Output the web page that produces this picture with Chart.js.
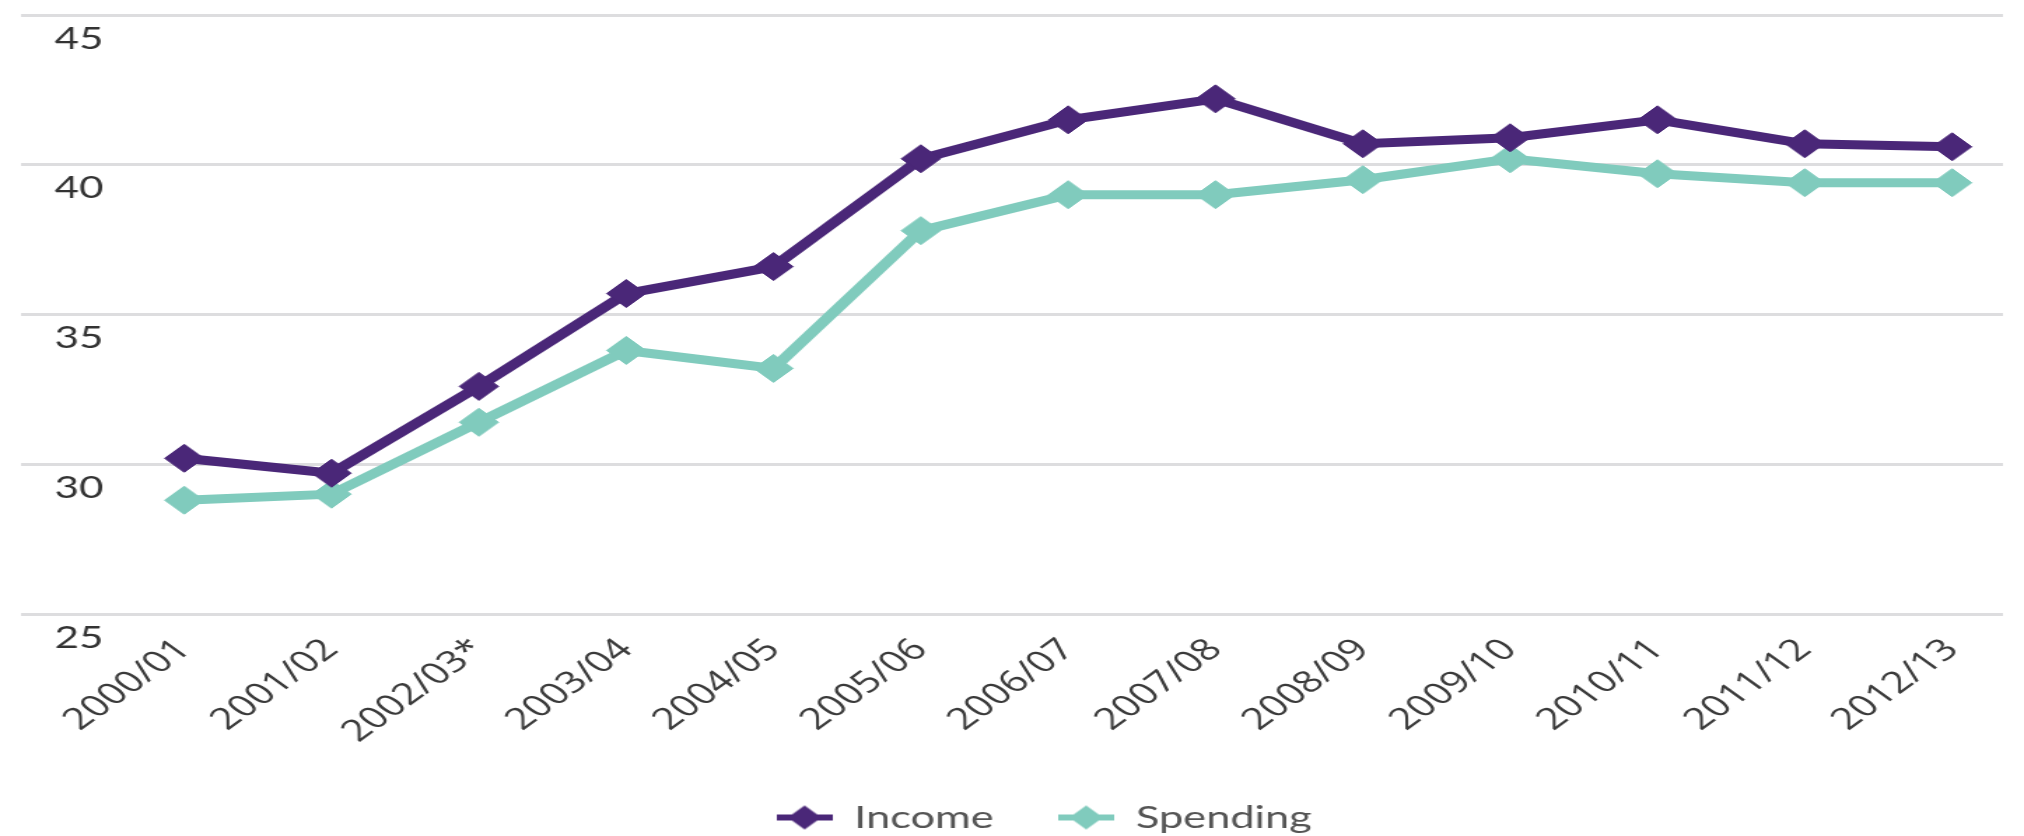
<!DOCTYPE html>
<html>
<head>
<meta charset="utf-8">
<title>Income and Spending</title>
<script src="https://cdn.jsdelivr.net/npm/chart.js@4.4.1/dist/chart.umd.min.js"></script>
<style>
  html, body { margin: 0; padding: 0; background: #ffffff; overflow: hidden; }
  /* the chart is laid out on a narrower canvas and widened to the full page */
  #wrap {
    position: absolute; left: 0; top: 0;
    width: 1446px; height: 836px;
    transform: scaleX(1.3997); transform-origin: 0 0;
  }
</style>
</head>
<body>
<div id="wrap"><canvas id="chart"></canvas></div>
<script>
// Financial years on the horizontal axis
const categories = ['2000/01', '2001/02', '2002/03*', '2003/04', '2004/05', '2005/06',
                    '2006/07', '2007/08', '2008/09', '2009/10', '2010/11', '2011/12', '2012/13'];
// Series values
const income   = [30.2, 29.7, 32.6, 35.7, 36.6, 40.2, 41.5, 42.2, 40.7, 40.9, 41.5, 40.7, 40.6];
const spending = [28.8, 29.0, 31.4, 33.8, 33.2, 37.8, 39.0, 39.0, 39.5, 40.2, 39.7, 39.4, 39.4];
// Value axis ticks
const yTicks = [25, 30, 35, 40, 45];

const seriesNames  = ['Income', 'Spending'];
const seriesColors = ['#4a2778', '#80cbbd'];

// Legend marker: a short line with a diamond on it
function legendMarker(color) {
  const c = document.createElement('canvas');
  c.width = 40; c.height = 26;
  const g = c.getContext('2d');
  g.fillStyle = color;
  g.fillRect(0, 10, 40, 6);
  g.beginPath();
  g.moveTo(20 - 12, 13); g.lineTo(20, 1); g.lineTo(20 + 12, 13); g.lineTo(20, 25);
  g.closePath(); g.fill();
  return c;
}
const markers = seriesColors.map(legendMarker);

const toPoints = arr => arr.map((v, i) => ({ x: i, y: v }));

function lineDataset(label, values, color) {
  return {
    label,
    data: toPoints(values),
    borderColor: color,
    backgroundColor: color,
    borderWidth: 9,
    tension: 0,
    pointStyle: 'rectRot',
    pointRadius: 14,
    pointBorderWidth: 1,
    pointBackgroundColor: color,
    pointBorderColor: color
  };
}

// Places the legend row under the axis labels, box reaching the canvas bottom
const legendNudge = {
  id: 'legendNudge',
  afterLayout(chart) {
    const lg = chart.legend;
    if (!lg) return;
    lg.left += 23; lg.right += 23;
    lg.top -= 30;
    lg.bottom = chart.height;
    lg.height = lg.bottom - lg.top;
  }
};

const PLOT_BOTTOM = 614;

new Chart(document.getElementById('chart'), {
  type: 'line',
  data: {
    datasets: [
      lineDataset(seriesNames[0], income, seriesColors[0]),
      lineDataset(seriesNames[1], spending, seriesColors[1])
    ]
  },
  plugins: [legendNudge],
  options: {
    responsive: true,
    maintainAspectRatio: false,
    animation: false,
    layout: { padding: { top: 10, right: 0, bottom: 0, left: 0 } },
    scales: {
      x: {
        type: 'linear',
        min: -1.108,
        max: 12.345,
        grid: { display: false },
        border: { display: false },
        afterBuildTicks(scale) {
          scale.ticks = categories.map((c, i) => ({ value: i }));
        },
        afterFit(scale) {
          scale.height = scale.chart.height - PLOT_BOTTOM - scale.chart.legend.height;
          scale.paddingLeft = 0;
          scale.paddingRight = 0;
        },
        ticks: {
          autoSkip: false,
          minRotation: 45,
          maxRotation: 45,
          padding: 10,
          labelOffset: 0,
          color: '#3a3a3a',
          font: { family: '"Open Sans", sans-serif', size: 30 },
          callback: v => categories[v]
        }
      },
      y: {
        min: yTicks[0],
        max: yTicks[yTicks.length - 1],
        afterBuildTicks(scale) {
          scale.ticks = yTicks.map(v => ({ value: v }));
        },
        afterFit(scale) {
          scale.width = 11;
          scale.paddingTop = 0;
          scale.paddingBottom = 0;
        },
        grid: { color: '#dddddf', lineWidth: 3, drawTicks: false },
        border: { display: false },
        ticks: {
          mirror: true,
          padding: 24,
          labelOffset: 24,
          color: '#333333',
          font: { family: 'Lato, sans-serif', size: 30 }
        }
      }
    },
    plugins: {
      tooltip: { enabled: false },
      legend: {
        position: 'bottom',
        maxHeight: 50,
        labels: {
          usePointStyle: true,
          pointStyleWidth: 40,
          padding: 46,
          color: '#555555',
          font: { family: 'Lato, sans-serif', size: 31 },
          generateLabels(chart) {
            const items = Chart.defaults.plugins.legend.labels.generateLabels(chart);
            return items.map((it, i) => Object.assign(it, { pointStyle: markers[i] }));
          }
        }
      }
    }
  }
});
</script>
</body>
</html>
